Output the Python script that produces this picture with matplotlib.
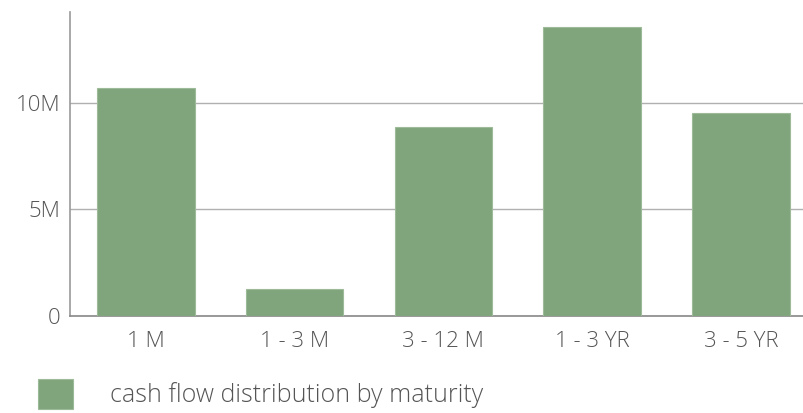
import matplotlib.pyplot as plt
from matplotlib.ticker import FuncFormatter

plt.rcParams['font.family'] = ['Open Sans', 'DejaVu Sans']
plt.rcParams['font.weight'] = 'light'

maturity = ['1 M', '1 - 3 M', '3 - 12 M', '1 - 3 YR', '3 - 5 YR']
cash_flow = [10.68e6, 1.26e6, 8.85e6, 13.54e6, 9.51e6]
yticks = [0, 5e6, 10e6]

fig = plt.figure(figsize=(8.04, 4.13), dpi=100)
ax = fig.add_axes([70 / 804, 1 - 316 / 413, 734 / 804, 304 / 413])

bars = ax.bar(range(len(maturity)), cash_flow, width=0.656, color='#80a47c',
              edgecolor='#9dbb99', linewidth=0.8, zorder=3,
              label='cash flow distribution by maturity')

ax.set_xlim(-0.511, 4.425)
ax.set_ylim(0, 14.24e6)
ax.set_xticks(range(len(maturity)))
ax.set_xticklabels(maturity)
ax.set_yticks(yticks)
ax.yaxis.set_major_formatter(FuncFormatter(lambda v, p: '0' if v == 0 else f'{v / 1e6:.0f}M'))
ax.tick_params(length=0, labelsize=16, colors='#555555', pad=7)
ax.tick_params(axis='x', pad=11)

ax.grid(axis='y', color='#b0b0b0', linewidth=1, zorder=0)
for s in ['top', 'right']:
    ax.spines[s].set_visible(False)
ax.spines['left'].set_color('#999999')
ax.spines['bottom'].set_color('#888888')
ax.spines['left'].set_linewidth(1.2)
ax.spines['bottom'].set_linewidth(1.2)

fig.legend(handles=[bars], labels=['cash flow distribution by maturity'],
           loc='center left', bbox_to_anchor=(15 / 804, 1 - 394 / 413),
           frameon=False, fontsize=18, handlelength=1.4, handleheight=1.42,
           handletextpad=1.5, labelcolor='#555555')

fig.savefig('out.png', dpi=100)
